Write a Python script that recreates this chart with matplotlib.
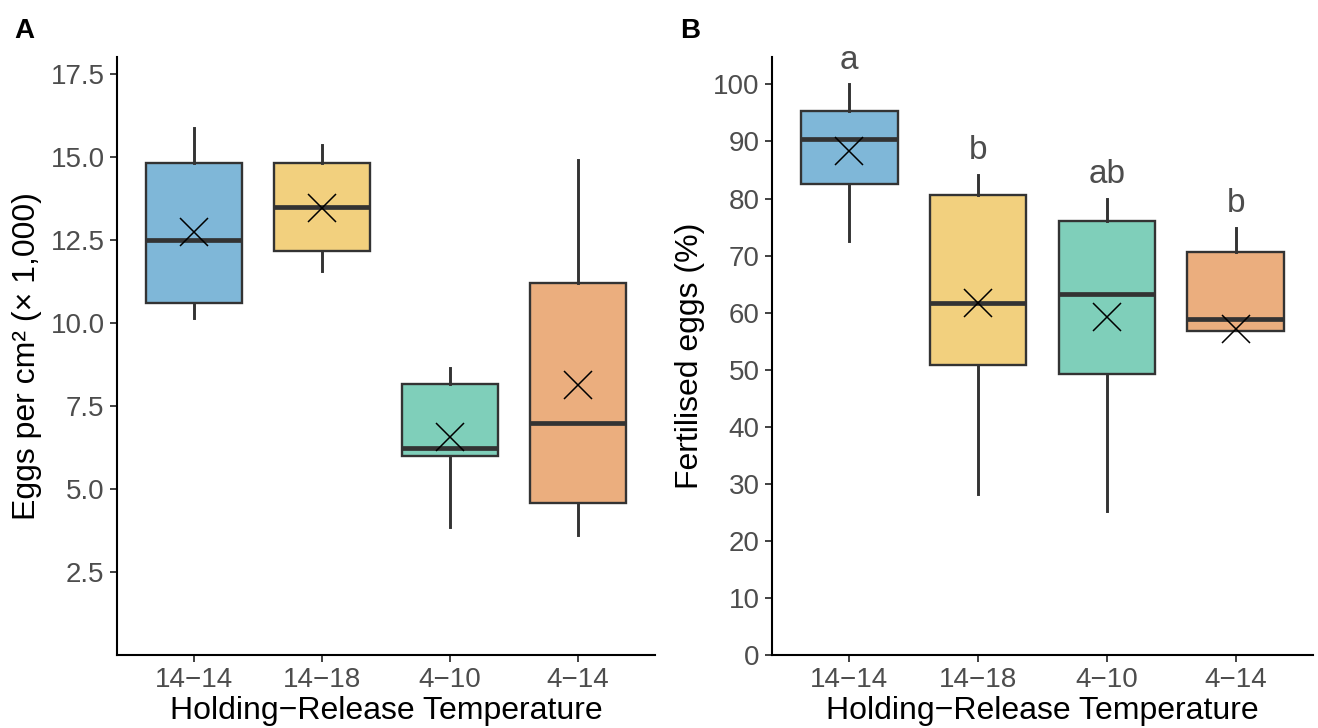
import matplotlib

matplotlib.use("Agg")
import matplotlib.pyplot as plt

plt.rcParams["font.family"] = ["Liberation Sans", "DejaVu Sans"]

groups = ["14−14", "14−18", "4−10", "4−14"]
colors = ["#7FB7D8", "#F2D07E", "#7FCFBA", "#EBAE7E"]

# panel A: eggs per cm2 (x 1,000)
eggs_lo = [10.14, 11.55, 3.84, 3.61]
eggs_q1 = [10.59, 12.16, 6.00, 4.58]
eggs_med = [12.50, 13.47, 6.24, 6.97]
eggs_q3 = [14.81, 14.81, 8.17, 11.19]
eggs_hi = [15.87, 15.36, 8.63, 14.90]
eggs_mean = [12.74, 13.44, 6.57, 8.14]

# panel B: fertilised eggs (%)
fert_lo = [72.6, 28.2, 25.3, 56.8]
fert_q1 = [82.6, 50.9, 49.3, 56.8]
fert_med = [90.4, 61.6, 63.2, 58.8]
fert_q3 = [95.4, 80.7, 76.0, 70.7]
fert_hi = [100.0, 84.2, 80.0, 74.9]
fert_mean = [88.4, 61.6, 59.3, 57.2]
fert_letters = ["a", "b", "ab", "b"]

EDGE = "#333333"
TICK_GREY = "#4D4D4D"


def draw_boxes(ax, lo, q1, med, q3, hi, mean):
    stats = []
    for i in range(len(groups)):
        stats.append({
            "whislo": lo[i], "q1": q1[i], "med": med[i],
            "q3": q3[i], "whishi": hi[i], "fliers": [],
        })
    positions = list(range(1, len(groups) + 1))
    bp = ax.bxp(
        stats, positions=positions, widths=0.75, patch_artist=True,
        showcaps=False, showfliers=False,
        boxprops=dict(edgecolor=EDGE, linewidth=1.7),
        medianprops=dict(color=EDGE, linewidth=3.4, solid_capstyle="butt"),
        whiskerprops=dict(color=EDGE, linewidth=2.1),
    )
    for patch, color in zip(bp["boxes"], colors):
        patch.set_facecolor(color)
    ax.plot(positions, mean, linestyle="none", marker="x", markersize=20,
            markeredgewidth=1.1, color="black", zorder=5)


def style_axes(ax):
    ax.set_xlim(0.4, 4.6)
    ax.set_xticks(range(1, len(groups) + 1))
    ax.set_xticklabels(groups)
    ax.spines["top"].set_visible(False)
    ax.spines["right"].set_visible(False)
    for side in ("left", "bottom"):
        ax.spines[side].set_linewidth(1.5)
        ax.spines[side].set_color("black")
    ax.tick_params(axis="both", labelsize=20, labelcolor=TICK_GREY,
                   color=EDGE, length=5, width=1.3, pad=4)
    ax.set_xlabel("Holding−Release Temperature", fontsize=23, labelpad=2)


fig = plt.figure(figsize=(13.18, 7.28), dpi=100)
ax_a = fig.add_axes([0.0888, 0.1003, 0.4082, 0.8214])
ax_b = fig.add_axes([0.5857, 0.1003, 0.4105, 0.8214])

draw_boxes(ax_a, eggs_lo, eggs_q1, eggs_med, eggs_q3, eggs_hi, eggs_mean)
style_axes(ax_a)
ax_a.set_ylim(0, 18.0)
ax_a.set_yticks([2.5, 5.0, 7.5, 10.0, 12.5, 15.0, 17.5])
ax_a.set_yticklabels(["2.5", "5.0", "7.5", "10.0", "12.5", "15.0", "17.5"])
ax_a.set_ylabel("Eggs per cm² (× 1,000)", fontsize=23, labelpad=6)

draw_boxes(ax_b, fert_lo, fert_q1, fert_med, fert_q3, fert_hi, fert_mean)
style_axes(ax_b)
ax_b.set_ylim(0, 104.8)
ax_b.set_yticks(range(0, 101, 10))
ax_b.set_ylabel("Fertilised eggs (%)", fontsize=23, labelpad=6)
for i, letter in enumerate(fert_letters):
    ax_b.text(i + 1, fert_hi[i] + 2.7, letter, ha="center", va="baseline",
              fontsize=24, color=TICK_GREY)

fig.text(0.011, 0.948, "A", fontsize=20, fontweight="bold", va="baseline")
fig.text(0.516, 0.948, "B", fontsize=20, fontweight="bold", va="baseline")

fig.savefig("out.png", dpi=100)
